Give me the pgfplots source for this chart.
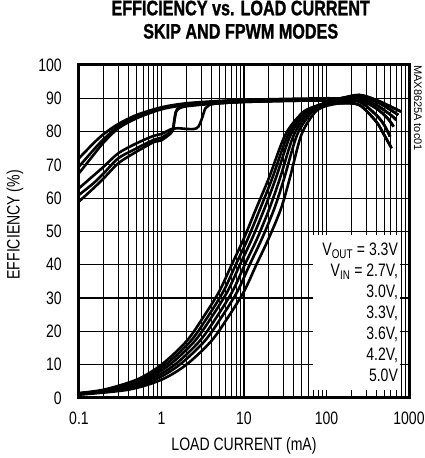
\documentclass[border=0pt]{standalone}
\usepackage{pgfplots}
\pgfplotsset{compat=1.18}
\usepackage{fontspec}
\setmainfont{Liberation Sans}[FakeStretch=0.78]
\newfontfamily\titlefont{Liberation Sans Bold}[FakeStretch=0.77, FakeBold=1.2]
\newfontfamily\tocfont{Liberation Sans}

\begin{document}
\begin{tikzpicture}
\begin{axis}[
  set layers=standard,
  width=330pt, height=333pt, scale only axis,
  xmode=log, xmin=0.1, xmax=1000, ymin=0, ymax=100,
  xtick={0.1,1,10,100,1000}, xticklabels={0.1,1,10,100,1000},
  minor xtick={0.2,0.3,0.4,0.5,0.6,0.7,0.8,0.9,2,3,4,5,6,7,8,9,20,30,40,50,60,70,80,90,200,300,400,500,600,700,800,900},
  ytick={0,10,...,100},
  grid=both,
  major grid style={black, line width=1.2pt},
  minor grid style={black, line width=0.7pt},
  major tick length=0pt, minor tick length=0pt,
  axis line style={line width=3pt},
  tick label style={font=\fontsize{18}{21}\selectfont},
  /pgf/number format/assume math mode=true,
  yticklabel style={inner sep=0pt, xshift=-17pt},
  xticklabel style={inner sep=0pt, yshift=-14pt},
  xlabel={LOAD CURRENT (mA)},
  ylabel={EFFICIENCY (\%)},
  label style={font=\fontsize{18}{21}\selectfont, inner sep=0pt},
  xlabel style={at={(axis description cs:0.5,-0.117)}, anchor=north},
  ylabel style={at={(axis description cs:-0.194,0.52)}, anchor=center},
  title={EFFICIENCY vs. LOAD CURRENT\\SKIP AND FPWM MODES},
  title style={at={(axis description cs:0.49,1)}, anchor=south, yshift=20pt,
    inner sep=0pt, align=center, font=\titlefont\fontsize{21}{23.3}\selectfont},
  every axis plot post/.append style={black, solid, mark=none, line width=2.6pt,
    smooth, tension=0.5, line join=round},
]
% skip mode
\addplot coordinates {(0.1,72) (0.15,76.5) (0.2,79.3) (0.3,82.3) (0.5,85) (1,87.3) (2,88.5) (5,89.2) (10,89.5) (30,89.8) (100,90) (150,90) (250,91) (400,89.5) (600,87.5) (800,86)};
\addplot coordinates {(0.1,69.5) (0.15,74.5) (0.2,77.8) (0.3,81.6) (0.5,84.5) (1,87) (2,88.3) (5,89) (10,89.3) (30,89.6) (100,89.8) (150,90) (250,90.5) (400,89) (600,86.5) (740,85)};
\addplot coordinates {(0.1,67.5) (0.15,73) (0.2,76.8) (0.3,81) (0.5,84) (1,86.7) (2,88) (5,88.8) (10,89.1) (30,89.4) (100,89.5) (150,89.5) (250,90) (400,88) (600,85) (700,83.5)};
\addplot coordinates {(0.1,63) (0.15,66.8) (0.2,69.5) (0.3,73.5) (0.5,76.5) (0.8,78.7) (1,79.3) (1.3,80.7) (1.6,81) (2,80.8) (2.5,80.8) (2.8,81.5) (3.1,84) (3.4,87) (3.8,88) (5,88.5) (10,88.9) (30,89.2) (100,89.4) (150,89) (250,89.5) (400,87) (550,84) (650,81.5)};
\addplot coordinates {(0.1,61) (0.15,64.5) (0.2,67.5) (0.3,72) (0.5,75) (0.8,77.5) (1,78.2) (1.3,80) (1.38,81) (1.45,84.5) (1.55,86.8) (2,87.8) (5,88.6) (10,89) (30,89.3) (100,89.5) (150,89) (250,89) (400,85) (500,82) (590,78.5)};
\addplot coordinates {(0.1,59) (0.15,63) (0.2,66) (0.3,70.5) (0.5,74) (0.8,76.8) (1,77.4) (1.3,79.5) (1.38,80.5) (1.45,84) (1.55,86.5) (2,87.6) (5,88.5) (10,88.9) (30,89.2) (100,89.3) (150,88.5) (250,88) (400,83) (500,79) (615,75)};
% FPWM mode
\addplot coordinates {(0.1,1.5) (0.2,2.5) (0.5,5.5) (1,10) (2,17) (3.16,24) (5.01,32) (7.08,40) (10,48) (14.1,57) (20,66) (31.6,79) (50.1,85.5) (70.8,87.5) (150,90) (250,91) (400,89.5) (600,87.5) (800,86)};
\addplot coordinates {(0.1,1.4) (0.224,2.5) (0.562,5.5) (1.12,10) (2.24,17) (3.55,24) (5.62,32) (7.94,40) (11.2,48) (15.8,57) (22.0,66) (34.1,79) (53.1,85.5) (74.1,87.5) (150,90) (250,90.5) (400,89) (600,86.5) (740,85)};
\addplot coordinates {(0.1,1.3) (0.251,2.5) (0.631,5.5) (1.26,10) (2.51,17) (3.98,24) (6.31,32) (8.91,40) (12.6,48) (17.8,57) (24.3,66) (36.7,79) (56.2,85.5) (77.6,87.5) (150,89.5) (250,90) (400,88) (600,85) (700,83.5)};
\addplot coordinates {(0.1,1.2) (0.288,2.5) (0.724,5.5) (1.45,10) (2.88,17) (4.57,24) (7.24,32) (10.2,40) (14.5,48) (20.4,57) (27.3,66) (40.2,79) (60.3,85.5) (82.0,87.5) (150,89) (250,89.5) (400,87) (550,84) (650,81.5)};
\addplot coordinates {(0.1,1.1) (0.331,2.5) (0.832,5.5) (1.66,10) (3.31,17) (5.25,24) (8.32,32) (11.7,40) (16.6,48) (23.4,57) (30.7,66) (44.0,79) (64.6,85.5) (86.7,87.5) (150,89) (250,89) (400,85) (500,82) (590,78.5)};
\addplot coordinates {(0.1,1.0) (0.398,2.5) (1,5.5) (2,10) (3.98,17) (6.31,24) (10,32) (14.1,40) (20,48) (28.2,57) (35.9,66) (49.5,79) (70.8,85.5) (93.3,87.5) (150,88.5) (250,88) (400,83) (500,79) (615,75)};
% conditions box
\begin{pgfonlayer}{axis ticks}
\fill[white] (rel axis cs:0.709,0.024) rectangle (rel axis cs:0.973,0.489);
\end{pgfonlayer}
\node[anchor=north east, align=right, inner sep=0pt, font=\fontsize{18}{21}\selectfont]
  at (rel axis cs:0.967,0.4655)
  {V\textsubscript{OUT} = 3.3V\\V\textsubscript{IN} = 2.7V,\\3.0V,\\3.3V,\\3.6V,\\4.2V,\\5.0V};
\end{axis}
\node[rotate=-90, anchor=west, inner sep=0pt, font=\tocfont\fontsize{11}{12}\selectfont]
  at (339pt,333pt) {MAX8625A toc01};
\pgfresetboundingbox
\path[use as bounding box] (-79pt,-60pt) rectangle (346pt,398pt);
\end{tikzpicture}
\end{document}
